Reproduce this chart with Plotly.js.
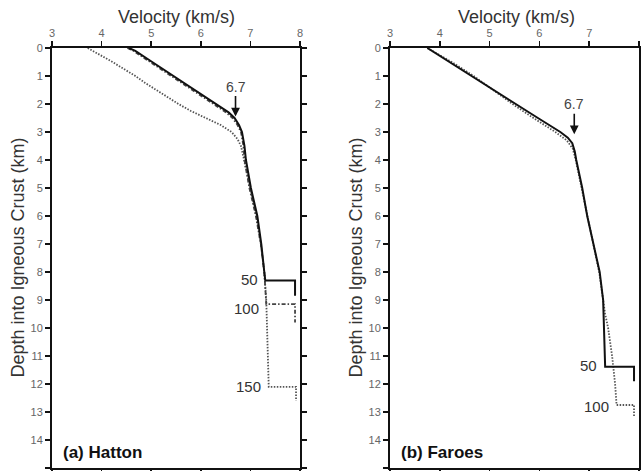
<!DOCTYPE html>
<html>
<head>
<meta charset="utf-8">
<script src="https://cdn.plot.ly/plotly-3.0.1.min.js"></script>
<style>
  html, body { margin: 0; padding: 0; background: #fff; }
  #chart { width: 641px; height: 471px; }
</style>
</head>
<body>
<div id="chart"></div>
<script>
// Velocity-depth profiles of igneous crust for two margins.
// Each model ends with a step to the mantle velocity at the base of the crust.

// (a) Hatton
const hatton50Depth = [0, 0.1, 0.5, 1.0, 1.5, 2.0, 2.3, 2.5, 2.75, 3.0, 3.5, 4.0, 5.0, 6.0, 7.0, 8.0, 8.3, 8.3, 8.85];
const hatton50Vel   = [4.55, 4.68, 5.02, 5.45, 5.87, 6.30, 6.56, 6.68, 6.77, 6.83, 6.88, 6.91, 7.01, 7.14, 7.22, 7.28, 7.30, 7.90, 7.90];

const hatton100Depth = [0, 0.1, 0.5, 1.0, 1.5, 2.0, 2.3, 2.5, 2.75, 3.0, 3.5, 4.0, 5.0, 6.0, 7.0, 8.0, 9.0, 9.15, 9.15, 9.8];
const hatton100Vel   = [4.52, 4.64, 4.98, 5.41, 5.83, 6.26, 6.51, 6.64, 6.74, 6.81, 6.86, 6.88, 6.98, 7.11, 7.21, 7.28, 7.31, 7.32, 7.90, 7.90];

const hatton150Depth = [0, 0.25, 0.5, 0.75, 1.0, 1.25, 1.5, 1.75, 2.0, 2.25, 2.5, 2.75, 3.0, 3.25, 3.5, 4.0, 5.0, 6.0, 7.0, 8.0, 9.0, 10.0, 11.0, 12.1, 12.1, 12.6];
const hatton150Vel   = [3.72, 3.98, 4.22, 4.45, 4.68, 4.88, 5.10, 5.32, 5.55, 5.80, 6.10, 6.40, 6.62, 6.74, 6.81, 6.87, 6.99, 7.12, 7.21, 7.28, 7.32, 7.34, 7.36, 7.37, 7.92, 7.92];

// (b) Faroes
const faroes50Depth = [0, 0.5, 1.0, 1.5, 2.0, 2.5, 3.0, 3.2, 3.4, 3.7, 4.0, 5.0, 6.0, 7.0, 8.0, 9.0, 10.0, 11.0, 11.38, 11.38, 11.9];
const faroes50Vel   = [3.75, 4.19, 4.63, 5.07, 5.52, 5.97, 6.42, 6.57, 6.66, 6.71, 6.74, 6.86, 6.96, 7.08, 7.21, 7.28, 7.30, 7.31, 7.32, 7.90, 7.90];

const faroes100Depth = [0, 0.5, 1.0, 1.5, 2.0, 2.5, 3.0, 3.3, 3.6, 4.0, 5.0, 6.0, 7.0, 8.0, 9.0, 9.5, 10.0, 11.0, 12.0, 12.75, 12.75, 13.2];
const faroes100Vel   = [3.75, 4.24, 4.68, 5.07, 5.46, 5.88, 6.32, 6.55, 6.67, 6.73, 6.85, 6.96, 7.08, 7.20, 7.28, 7.32, 7.38, 7.46, 7.52, 7.55, 7.90, 7.90];

const velTicks = [3, 4, 5, 6, 7, 8];
const depthTicks = [0, 1, 2, 3, 4, 5, 6, 7, 8, 9, 10, 11, 12, 13, 14, 15];
const markedVelocity = 6.7;

const FONT = 'Liberation Sans, Arial, Helvetica, sans-serif';
const W = 641, H = 471;
const fx = p => p / W;          // pixel -> paper x
const fy = p => 1 - p / H;      // pixel -> paper y

function line(x, y, xa, ya, style) {
  return {
    x: x, y: y, xaxis: xa, yaxis: ya, mode: 'lines', hoverinfo: 'skip',
    showlegend: false, line: style
  };
}

const solid = { color: '#111', width: 2 };
const dashDot = { color: '#444', width: 1.8, dash: '4px,2px,1.5px,2px' };
const dotted = { color: '#555', width: 1.8, dash: '1.5px,1.5px' };

const traces = [
  line(hatton150Vel, hatton150Depth, 'x', 'y', dotted),
  line(hatton100Vel, hatton100Depth, 'x', 'y', dashDot),
  line(hatton50Vel, hatton50Depth, 'x', 'y', solid),
  line(faroes100Vel, faroes100Depth, 'x2', 'y2', dotted),
  line(faroes50Vel, faroes50Depth, 'x2', 'y2', solid)
];

function xAxis(domain, anchor) {
  return {
    domain: domain, anchor: anchor, side: 'top', range: [3, 8],
    tickvals: velTicks, ticktext: velTicks.map(String),
    ticks: 'outside', ticklen: 5, tickwidth: 1.5, tickcolor: '#111',
    showline: true, linecolor: '#111', linewidth: 2, mirror: 'ticks',
    showgrid: false, zeroline: false, fixedrange: true,
    tickfont: { family: FONT, size: 11, color: '#666' }
  };
}
function yAxis(anchor) {
  return {
    domain: [fy(468), fy(48)], anchor: anchor, range: [15, 0],
    tickvals: depthTicks, ticktext: depthTicks.map(String),
    ticks: 'outside', ticklen: 5, tickwidth: 1.5, tickcolor: '#111',
    showline: true, linecolor: '#111', linewidth: 2, mirror: 'ticks',
    showgrid: false, zeroline: false, fixedrange: true,
    tickfont: { family: FONT, size: 11, color: '#666' }
  };
}

const annotations = [];
function panelText(xref, yref, yTitleX, velCenter, name, models) {
  annotations.push({
    xref: xref, yref: 'paper', x: velCenter, y: fy(17), text: 'Velocity (km/s)',
    showarrow: false, xanchor: 'center', yanchor: 'middle',
    font: { family: FONT, size: 18, color: '#333' }
  });
  annotations.push({
    xref: 'paper', yref: 'paper', x: fx(yTitleX), y: fy(258), textangle: -90,
    text: 'Depth into Igneous Crust (km)', showarrow: false,
    xanchor: 'center', yanchor: 'middle',
    font: { family: FONT, size: 18, color: '#333' }
  });
  annotations.push({
    xref: xref, yref: yref, x: 3.18, y: 14.43, text: '<b>' + name + '</b>',
    showarrow: false, xanchor: 'left', yanchor: 'middle',
    font: { family: FONT, size: 17, color: '#111' }
  });
  models.forEach(m => annotations.push({
    xref: xref, yref: yref, x: m.x, y: m.y, text: m.label, showarrow: false,
    xanchor: 'right', yanchor: 'middle',
    font: { family: FONT, size: 15, color: '#333' }
  }));
}

panelText('x', 'y', 17.5, 5.5, '(a) Hatton', [
  { label: '50', x: 7.2, y: 8.28 },
  { label: '100', x: 7.22, y: 9.3 },
  { label: '150', x: 7.25, y: 12.1 }
]);
panelText('x2', 'y2', 355.5, 5.55, '(b) Faroes', [
  { label: '50', x: 7.2, y: 11.35 },
  { label: '100', x: 7.44, y: 12.79 }
]);

// arrows marking the 6.7 km/s velocity
[['x', 'y', 2.45], ['x2', 'y2', 3.08]].forEach(([xr, yr, d]) => annotations.push({
  xref: xr, yref: yr, x: markedVelocity, y: d, ax: 0, ay: -30,
  text: String(markedVelocity), showarrow: true, arrowhead: 2, arrowsize: 1.1,
  arrowwidth: 1.6, arrowcolor: '#111', standoff: 0,
  font: { family: FONT, size: 14, color: '#444' }
}));

const layout = {
  width: W, height: H,
  margin: { l: 0, r: 0, t: 0, b: 0 },
  paper_bgcolor: '#fff', plot_bgcolor: '#fff',
  showlegend: false,
  xaxis: xAxis([fx(52), fx(300)], 'y'),
  yaxis: yAxis('x'),
  xaxis2: xAxis([fx(390), fx(639)], 'y2'),
  yaxis2: yAxis('x2'),
  annotations: annotations
};

Plotly.newPlot('chart', traces, layout, { staticPlot: true, displayModeBar: false });
</script>
</body>
</html>
